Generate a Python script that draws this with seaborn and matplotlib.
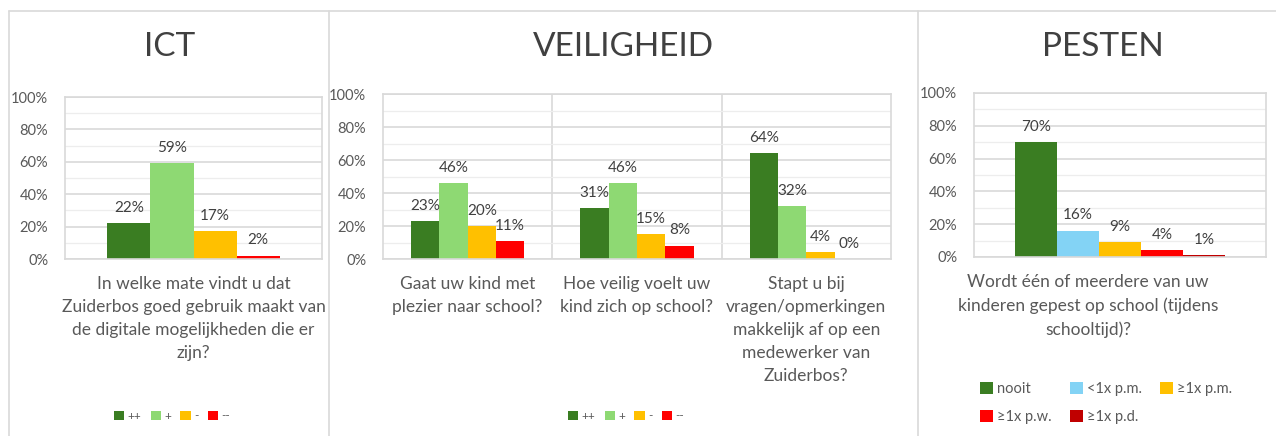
import matplotlib
matplotlib.use("Agg")
import matplotlib.pyplot as plt
import seaborn as sns
import pandas as pd
from matplotlib.patches import Patch
from matplotlib.lines import Line2D
from matplotlib.transforms import ScaledTranslation

sns.set_theme(style="white")
plt.rcParams['font.family'] = ['Lato', 'DejaVu Sans']

# ---------------- data ----------------
ict_questions = ["In welke mate vindt u dat\nZuiderbos goed gebruik maakt van\nde digitale mogelijkheden die er\nzijn?"]
ict_cats = ["++", "+", "-", "--"]
ict_values = [[22, 59, 17, 2]]

veil_questions = ["Gaat uw kind met\nplezier naar school?",
                  "Hoe veilig voelt uw\nkind zich op school?",
                  "Stapt u bij\nvragen/opmerkingen\nmakkelijk af op een\nmedewerker van\nZuiderbos?"]
veil_cats = ["++", "+", "-", "--"]
veil_values = [[23, 46, 20, 11],
               [31, 46, 15, 8],
               [64, 32, 4, 0]]

pest_questions = ["Wordt één of meerdere van uw\nkinderen gepest op school (tijdens\nschooltijd)?"]
pest_cats = ["nooit", "<1x p.m.", "≥1x p.m.", "≥1x p.w.", "≥1x p.d."]
pest_values = [[70, 16, 9, 4, 1]]

rating_colors = ["#3a7d22", "#8ed973", "#ffc000", "#ff0000"]
pest_colors = ["#3a7d22", "#83d3f5", "#ffc000", "#ff0000", "#c00000"]

TXT = "#595959"
GRID_MAJ = "#d9d9d9"
GRID_MIN = "#ededed"

W, H = 1276, 436
fig = plt.figure(figsize=(W / 100, H / 100), dpi=100)
fig.patch.set_facecolor("white")


def rect(x0, y0, x1, y1):
    return [x0 / W, 1 - y1 / H, (x1 - x0) / W, (y1 - y0) / H]


def make_df(questions, cats, values):
    rows = []
    for q, vals in zip(questions, values):
        for c, v in zip(cats, vals):
            rows.append({"question": q, "cat": c, "value": v})
    return pd.DataFrame(rows)


def panel(box, questions, cats, values, colors, width, label_size=12.5):
    ax = fig.add_axes(rect(*box))
    df = make_df(questions, cats, values)
    sns.barplot(data=df, x="question", y="value", hue="cat", hue_order=cats,
                order=questions, palette=colors, width=width, linewidth=0,
                saturation=1, legend=False, ax=ax)
    ax.set_ylim(0, 100)
    ax.set_xlim(-0.5, len(questions) - 0.5)
    ax.set_yticks(range(0, 101, 20))
    ax.set_yticks(range(10, 100, 20), minor=True)
    ax.set_yticklabels([f"{t}%" for t in range(0, 101, 20)], color=TXT, fontsize=10.5)
    ax.grid(axis="y", which="major", color=GRID_MAJ, linewidth=1.2)
    ax.grid(axis="y", which="minor", color=GRID_MIN, linewidth=0.9)
    ax.set_axisbelow(True)
    ax.tick_params(axis="both", which="both", length=0)
    ax.tick_params(axis="y", pad=12)
    ax.tick_params(axis="x", pad=12)
    ax.set_xticks(range(len(questions)))
    ax.set_xticklabels(questions, color=TXT, fontsize=label_size,
                       linespacing=1.55, ha="center", va="top")
    ax.set_xlabel("")
    ax.set_ylabel("")
    for s in ax.spines.values():
        s.set_color(GRID_MAJ)
        s.set_linewidth(1.2)
    for i in range(1, len(questions)):
        ax.axvline(i - 0.5, color=GRID_MAJ, linewidth=1.2, zorder=0.5)
    for cont in ax.containers:
        ax.bar_label(cont, fmt="%d%%", padding=6, color="#404040", fontsize=11)
    return ax


ax1 = panel((65, 97, 322, 259), ict_questions, ict_cats, ict_values,
            rating_colors, 0.67)
ax2 = panel((383, 94, 891, 259), veil_questions, veil_cats, veil_values,
            rating_colors, 0.67)
ax3 = panel((974, 93, 1266, 257), pest_questions, pest_cats, pest_values,
            pest_colors, 0.72)

# the PESTEN question label sits a little left of the plot centre
for lbl in ax3.get_xticklabels():
    lbl.set_transform(lbl.get_transform() + ScaledTranslation(-0.32, 0, fig.dpi_scale_trans))

# titles
fig.text(170 / W, 1 - 47 / H, "ICT", ha="center", va="center", fontsize=24, color="#404040")
fig.text(623 / W, 1 - 47 / H, "VEILIGHEID", ha="center", va="center", fontsize=24, color="#404040")
fig.text(1103 / W, 1 - 47 / H, "PESTEN", ha="center", va="center", fontsize=24, color="#404040")


def handles(cats, colors):
    return [Patch(facecolor=col, edgecolor="none", label=cat) for cat, col in zip(cats, colors)]


leg_kw = dict(frameon=False, handlelength=0.9, handleheight=0.9, handletextpad=0.25,
              columnspacing=0.8, fontsize=8.5, labelcolor=TXT)
fig.legend(handles=handles(ict_cats, rating_colors), loc="center",
           bbox_to_anchor=(172 / W, 1 - 416 / H), ncol=4, **leg_kw)
fig.legend(handles=handles(veil_cats, rating_colors), loc="center",
           bbox_to_anchor=(626 / W, 1 - 416 / H), ncol=4, **leg_kw)

ph = handles(pest_cats, pest_colors)
ph_order = [ph[0], ph[3], ph[1], ph[4], ph[2]]
fig.legend(handles=ph_order, loc="center", bbox_to_anchor=(1106 / W, 1 - 403 / H), ncol=3,
           frameon=False, handlelength=0.9, handleheight=0.9, handletextpad=0.3,
           columnspacing=1.2, labelspacing=0.9, fontsize=10.5, labelcolor=TXT)

# panel frames
line_c = "#d9d9d9"
for x in (9, 329, 918):
    fig.add_artist(Line2D([x / W, x / W], [0, 1 - 11 / H], color=line_c, linewidth=1.2))
fig.add_artist(Line2D([9 / W, 1], [1 - 11 / H, 1 - 11 / H], color=line_c, linewidth=1.2))

fig.savefig("out.png", dpi=100, facecolor="white")
